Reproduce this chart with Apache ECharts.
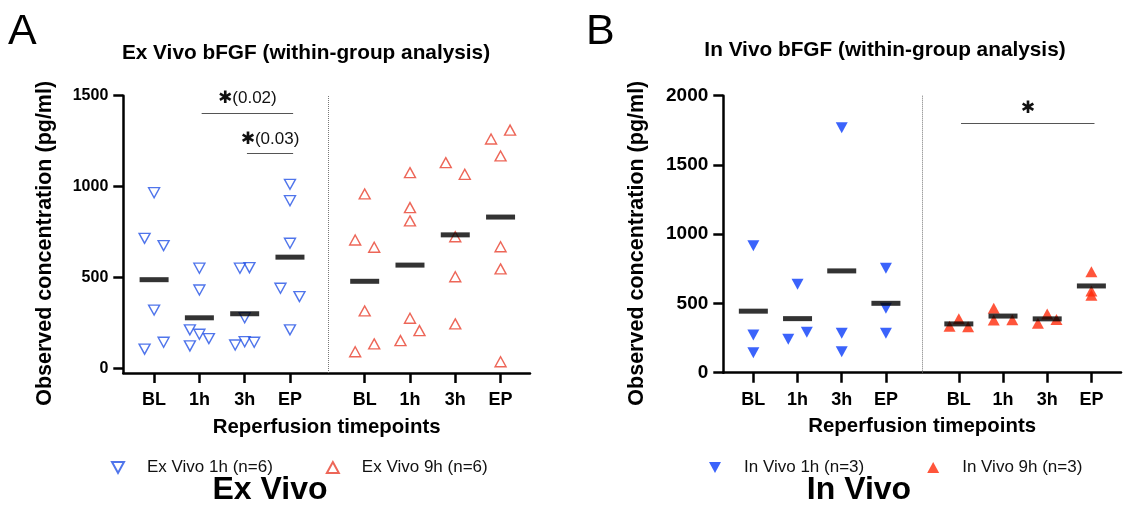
<!DOCTYPE html>
<html><head><meta charset="utf-8">
<script src="https://cdn.jsdelivr.net/npm/echarts@6/dist/echarts.min.js"></script>
<style>html,body{margin:0;padding:0;background:#fff}#c{width:1123px;height:521px}</style>
</head><body><div id="c"></div>
<script>
// ---------- data ----------
const categories = ['BL', '1h', '3h', 'EP'];
const exYTicks = [0, 500, 1000, 1500];
const inYTicks = [0, 500, 1000, 1500, 2000];

// Ex Vivo, pg/ml, per timepoint
const exVivo1h = [
  [967, 716, 676, 322, 107, 145],
  [552, 432, 213, 189, 165, 125],
  [552, 555, 280, 130, 148, 145],
  [1013, 923, 689, 442, 396, 213]
];
const exVivo9h = [
  [960, 707, 667, 317, 93, 136],
  [1077, 885, 812, 277, 209, 154],
  [1132, 1068, 725, 505, 246],
  [1262, 1311, 1169, 670, 548, 38]
];
// In Vivo, pg/ml, per timepoint
const inVivo1h = [
  [917, 272, 144],
  [638, 241, 292],
  [1769, 284, 152],
  [754, 465, 284]
];
const inVivo9h = [
  [335, 390, 332],
  [465, 380, 382],
  [357, 424, 385],
  [729, 590, 560]
];
// scatter-dot spreading slots (left / centre / right) for each point
const exVivo1hSlot = [[0,-1,1,0,-1,1],[0,0,-1,0,1,-1],[-0.5,0.5,0,-1,0,1],[0,0,0,-1,1,0]];
const exVivo9hSlot = [[0,-1,1,0,-1,1],[0,0,0,0,1,-1],[-1,1,0,0,0],[-1,1,0,0,0,0]];
const inVivo1hSlot = [[0,0,0],[0,-1,1],[0,0,0],[0,0,0]];
const inVivo9hSlot = [[-1,0,1],[-1,-1,1],[-1,0,1],[0,0,0]];

// significance annotations (category index from/to, level in pg/ml)
const exSig = [
  { from: 1, to: 3, level: 1406, star: '✱', text: '(0.02)' },
  { from: 2, to: 3, level: 1181, star: '✱', text: '(0.03)' }
];
const inSig = [
  { from: 0, to: 3, level: 1801, star: '✱', text: '' }
];

// ---------- layout helpers ----------
const GROUP_START = [0, 4.65];
const SPREAD = 0.21;
const FONT = 'Liberation Sans, Arial, Helvetica, sans-serif';
const DOWN_TRI = 'path://M0,0 L12,0 L6,11 Z';
const UP_TRI = 'path://M6,0 L12,11 L0,11 Z';

function points(vals, slots, g) {
  const out = [];
  vals.forEach((arr, ci) => arr.forEach((v, j) => out.push([GROUP_START[g] + ci + slots[ci][j] * SPREAD, v])));
  return out;
}
function means(vals, g) {
  return vals.map((arr, ci) => [GROUP_START[g] + ci, arr.reduce((a, b) => a + b, 0) / arr.length]);
}
const tickPos = [];
GROUP_START.forEach(s => categories.forEach((c, i) => tickPos.push(+(s + i).toFixed(3))));
function catLabel(v) {
  for (const s of GROUP_START) {
    const i = Math.round(v - s);
    if (i >= 0 && i < categories.length && Math.abs(v - s - i) < 0.01) return categories[i];
  }
  return '';
}
function sigLines(list, g) {
  return list.map(s => [
    { coord: [GROUP_START[g] + s.from + 0.05, s.level],
      label: { formatter: s.text ? '{s|' + s.star + '}{t|' + s.text + '}' : '{s|' + s.star + '}' } },
    { coord: [GROUP_START[g] + s.to + 0.07, s.level] }
  ]);
}

function xAxisCfg(gridIndex, min, max) {
  return {
    type: 'value', gridIndex, min, max,
    name: 'Reperfusion timepoints', nameLocation: 'middle', nameGap: 44,
    nameTextStyle: { fontFamily: FONT, fontWeight: 'bold', fontSize: 20.4, color: '#000' },
    axisLine: { onZero: false, lineStyle: { color: '#000', width: 2.5 } },
    axisTick: { customValues: tickPos, length: 10, lineStyle: { width: 2.5, color: '#000' } },
    axisLabel: { customValues: tickPos, formatter: catLabel, margin: 18,
      fontFamily: FONT, fontWeight: 'bold', fontSize: 18, color: '#000' },
    splitLine: { show: false }
  };
}
function yAxisCfg(gridIndex, min, max, ticks, fs, gap) {
  return {
    type: 'value', gridIndex, min, max,
    name: 'Observed concentration (pg/ml)', nameLocation: 'middle', nameGap: gap,
    nameTextStyle: { fontFamily: FONT, fontWeight: 'bold', fontSize: 21.5, color: '#000', padding: [0, 18, 0, 0] },
    axisLine: { show: true, onZero: false, lineStyle: { color: '#000', width: 2.5 } },
    axisTick: { show: true, customValues: ticks, length: 10, lineStyle: { width: 2.5, color: '#000' } },
    axisLabel: { customValues: ticks, margin: 15, formatter: v => String(v),
      fontFamily: FONT, fontWeight: 'bold', fontSize: fs, color: '#000' },
    splitLine: { show: false }
  };
}

const sigLabel = {
  show: true, position: 'middle', distance: 6,
  rich: {
    s: { fontFamily: 'DejaVu Sans, sans-serif', fontSize: 17, fontWeight: 'bold', color: '#111' },
    t: { fontFamily: FONT, fontSize: 17, color: '#111' }
  }
};

const hollowBlue = '#2452e6', hollowRed = '#e8402e';
const fillBlue = '#0a3cfa', fillRed = '#ff2a0a';

const option = {
  backgroundColor: '#fff',
  animation: false,
  grid: [
    { left: 123.3, top: 95.7, width: 406.7, height: 277.3 },
    { left: 723.3, top: 95.7, width: 397.7, height: 277 }
  ],
  xAxis: [xAxisCfg(0, -0.68, 8.3), xAxisCfg(1, -0.68, 8.32)],
  yAxis: [yAxisCfg(0, -24, 1500, exYTicks, 16, 67), yAxisCfg(1, 0, 2000, inYTicks, 19, 75)],
  legend: [
    { data: [{ name: 'Ex Vivo 1h (n=6)', icon: DOWN_TRI }, { name: 'Ex Vivo 9h (n=6)', icon: UP_TRI }],
      left: 106, top: 454, itemWidth: 12, itemHeight: 11,
      itemGap: 53, textStyle: { fontFamily: FONT, fontSize: 17, color: '#111', padding: [0, 0, 0, 18] } },
    { data: [{ name: 'In Vivo 1h (n=3)', icon: DOWN_TRI }, { name: 'In Vivo 9h (n=3)', icon: UP_TRI }],
      left: 704, top: 454, itemWidth: 12, itemHeight: 11,
      itemGap: 63, textStyle: { fontFamily: FONT, fontSize: 17, color: '#111', padding: [0, 0, 0, 18] } }
  ],
  graphic: [
    { type: 'text', left: 8, top: 11, style: { text: 'A', font: '43px ' + FONT, fill: '#000' } },
    { type: 'text', left: 586, top: 11, style: { text: 'B', font: '43px ' + FONT, fill: '#000' } },
    { type: 'text', x: 306, y: 53, style: { text: 'Ex Vivo bFGF (within-group analysis)', font: 'bold 20.8px ' + FONT, fill: '#000', align: 'center', verticalAlign: 'middle' } },
    { type: 'text', x: 885, y: 50, style: { text: 'In Vivo bFGF (within-group analysis)', font: 'bold 20.8px ' + FONT, fill: '#000', align: 'center', verticalAlign: 'middle' } },
    { type: 'text', x: 270, y: 490, style: { text: 'Ex Vivo', font: 'bold 32px ' + FONT, fill: '#000', align: 'center', verticalAlign: 'middle' } },
    { type: 'text', x: 859, y: 490, style: { text: 'In Vivo', font: 'bold 32px ' + FONT, fill: '#000', align: 'center', verticalAlign: 'middle' } }
  ],
  series: [
    { name: 'Ex Vivo 1h (n=6)', type: 'scatter', xAxisIndex: 0, yAxisIndex: 0,
      symbol: 'triangle', symbolRotate: 180, symbolSize: [11, 10],
      itemStyle: { color: 'rgba(255,255,255,0)', borderColor: hollowBlue, borderWidth: 1.4 },
      data: points(exVivo1h, exVivo1hSlot, 0) },
    { name: 'Ex Vivo 9h (n=6)', type: 'scatter', xAxisIndex: 0, yAxisIndex: 0,
      symbol: 'triangle', symbolSize: [11, 10],
      itemStyle: { color: 'rgba(255,255,255,0)', borderColor: hollowRed, borderWidth: 1.4 },
      data: points(exVivo9h, exVivo9hSlot, 1) },
    { name: 'exMean', type: 'scatter', xAxisIndex: 0, yAxisIndex: 0, z: 5,
      symbol: 'rect', symbolSize: [29, 5], itemStyle: { color: '#000' },
      data: means(exVivo1h, 0).concat(means(exVivo9h, 1)),
      markLine: { silent: true, symbol: ['none', 'none'], animation: false,
        lineStyle: { color: '#555', width: 1, type: 'solid' }, label: sigLabel,
        data: [{ xAxis: 3.84, lineStyle: { type: 'dotted', color: '#777', width: 1 }, label: { show: false } }]
          .concat(sigLines(exSig, 0)) } },
    { name: 'In Vivo 1h (n=3)', type: 'scatter', xAxisIndex: 1, yAxisIndex: 1,
      symbol: 'triangle', symbolRotate: 180, symbolSize: [12, 11],
      itemStyle: { color: fillBlue },
      data: points(inVivo1h, inVivo1hSlot, 0) },
    { name: 'In Vivo 9h (n=3)', type: 'scatter', xAxisIndex: 1, yAxisIndex: 1,
      symbol: 'triangle', symbolSize: [12, 11],
      itemStyle: { color: fillRed },
      data: points(inVivo9h, inVivo9hSlot, 1) },
    { name: 'inMean', type: 'scatter', xAxisIndex: 1, yAxisIndex: 1, z: 5,
      symbol: 'rect', symbolSize: [29, 5], itemStyle: { color: '#000' },
      data: means(inVivo1h, 0).concat(means(inVivo9h, 1)),
      markLine: { silent: true, symbol: ['none', 'none'], animation: false,
        lineStyle: { color: '#555', width: 1, type: 'solid' }, label: sigLabel,
        data: [{ xAxis: 3.83, lineStyle: { type: 'dotted', color: '#777', width: 1 }, label: { show: false } }]
          .concat(sigLines(inSig, 1)) } }
  ]
};
const chart = echarts.init(document.getElementById('c'), null, { renderer: 'canvas' });
chart.setOption(option);
</script>
</body></html>
